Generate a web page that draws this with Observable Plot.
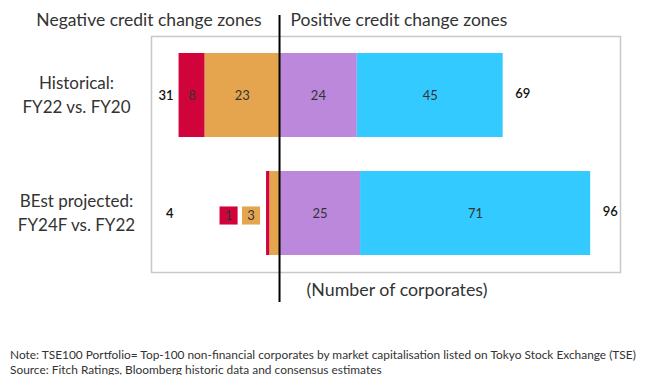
<!DOCTYPE html>
<html>
<head>
<meta charset="utf-8">
<script src="https://cdn.jsdelivr.net/npm/d3@7"></script>
<script src="https://cdn.jsdelivr.net/npm/@observablehq/plot@0.6"></script>
<style>
  body { margin: 0; background: #fff; font-family: Lato, "Open Sans", sans-serif; }
  #chart { width: 648px; height: 375px; position: relative; overflow: hidden; }
  #caption { position: absolute; left: 10px; top: 348px; font-size: 11.9px; line-height: 14.5px; color: #333; white-space: nowrap; }
</style>
</head>
<body>
<div id="chart"></div>
<script>
// ---- data ----
const rows = ["Historical:\nFY22 vs. FY20", "BEst projected:\nFY24F vs. FY22"];
const negHeader = "Negative credit change zones";
const posHeader = "Positive credit change zones";
const axisLabel = "(Number of corporates)";
const segments = ["Negative", "Positive", "Strong negative", "Strong positive"];
const negative = [23, 3];
const positive = [24, 25];
const strongNegative = [8, 1];
const strongPositive = [45, 71];
const negativeTotal = [31, 4];
const positiveTotal = [69, 96];
const colors = {"Strong negative": "#d0033a", "Negative": "#e4a54e", "Positive": "#bc88dc", "Strong positive": "#33cbff"};

// table built from the arrays (order puts inner segments next to zero)
const table = [];
rows.forEach((r, i) => {
  table.push({row: r, seg: "Negative", value: -negative[i]});
  table.push({row: r, seg: "Positive", value: positive[i]});
  table.push({row: r, seg: "Strong negative", value: -strongNegative[i]});
  table.push({row: r, seg: "Strong positive", value: strongPositive[i]});
});
const totals = rows.map((r, i) => ({row: r, neg: negativeTotal[i], pos: positiveTotal[i]}));
const small = table.filter(d => Math.abs(d.value) < 5);
const font = "Lato, 'Open Sans', sans-serif";

const chart = Plot.plot({
  width: 648,
  height: 312,
  marginLeft: 151,
  marginRight: 28,
  marginTop: 36,
  marginBottom: 40,
  style: {fontFamily: font, background: "white"},
  x: {domain: [-39.5, 105.2], axis: null},
  y: {domain: rows, axis: null, paddingInner: 0.286, paddingOuter: 0.135},
  color: {domain: Object.keys(colors), range: Object.values(colors)},
  marks: [
    Plot.frame({stroke: "#c8c8c8", strokeWidth: 1.5}),
    Plot.barX(table, Plot.stackX({x: "value", y: "row", fill: d => colors[d.seg]})),
    Plot.text(table.filter(d => Math.abs(d.value) >= 5),
      Plot.stackX({x: "value", y: "row", text: d => Math.abs(d.value), fill: "#333", fontSize: 13})),
    // callout boxes for the thin segments
    Plot.dot(small.filter(d => d.seg === "Strong negative"), {x: d => -negativeTotal[rows.indexOf(d.row)], y: "row", symbol: "square", r: 10.2, fill: colors["Strong negative"], dx: -38, dy: 2}),
    Plot.dot(small.filter(d => d.seg === "Negative"), {x: d => -negativeTotal[rows.indexOf(d.row)], y: "row", symbol: "square", r: 10.2, fill: colors["Negative"], dx: -15.5, dy: 2}),
    Plot.text(small.filter(d => d.seg === "Strong negative"), {x: d => -negativeTotal[rows.indexOf(d.row)], y: "row", text: d => Math.abs(d.value), dx: -38, dy: 2, fontSize: 13, fill: "#333"}),
    Plot.text(small.filter(d => d.seg === "Negative"), {x: d => -negativeTotal[rows.indexOf(d.row)], y: "row", text: d => Math.abs(d.value), dx: -15.5, dy: 2, fontSize: 13, fill: "#333"}),
    // totals
    Plot.text(totals, {y: "row", text: "neg", frameAnchor: "left", textAnchor: "end", dx: 22, fontSize: 13, fill: "#111", fontWeight: 600}),
    Plot.text(totals, {x: "pos", y: "row", text: "pos", textAnchor: "start", dx: 12, dy: -2, fontSize: 13, fill: "#111", fontWeight: 600}),
    // row labels
    Plot.text(rows, {y: d => d, text: d => d, frameAnchor: "left", textAnchor: "middle", dx: -75, dy: -2, fontSize: 17, lineHeight: 1.42, fill: "#333"}),
    // zero line
    Plot.ruleX([0], {stroke: "#000", strokeWidth: 2, insetTop: -21, insetBottom: -30}),
    // headers
    Plot.text([negHeader], {x: 0, text: d => d, frameAnchor: "top", textAnchor: "end", dx: -18, dy: -23, fontSize: 17.5, fill: "#333"}),
    Plot.text([posHeader], {x: 0, text: d => d, frameAnchor: "top", textAnchor: "start", dx: 11, dy: -23, fontSize: 17.5, fill: "#333"}),
    Plot.text([axisLabel], {text: d => d, frameAnchor: "bottom", dx: 11, dy: 23, fontSize: 17.8, fill: "#333"})
  ]
});
document.getElementById("chart").appendChild(chart);
const cap = document.createElement("div");
cap.id = "caption";
cap.innerHTML = "Note: TSE100 Portfolio= Top-100 non-financial corporates by market capitalisation listed on Tokyo Stock Exchange (TSE)<br>Source: Fitch Ratings, Bloomberg historic data and consensus estimates";
document.getElementById("chart").appendChild(cap);
</script>
</body>
</html>
